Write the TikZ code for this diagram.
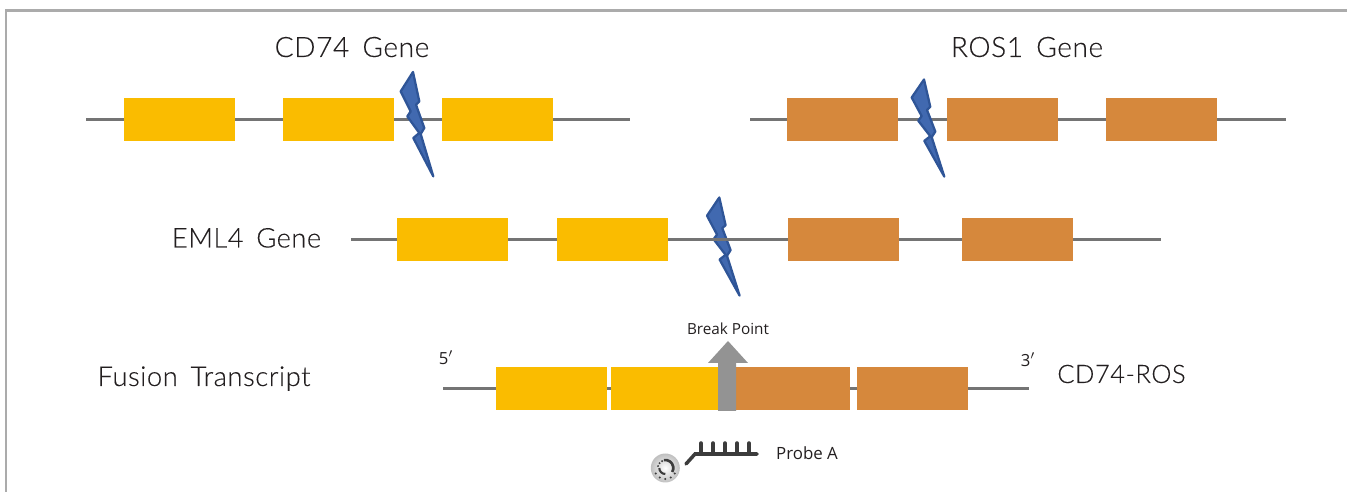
\documentclass[tikz,border=0pt]{standalone}
\usepackage{fontspec}
\setmainfont{Lato}
\newfontfamily\titlefont[WordSpace=1.6,LetterSpace=2,FakeBold=0.15]{Lato Light}
\newfontfamily\smallfont{Open Sans}
\tikzset{%
	exon/.style     = {rectangle, minimum width = 2.22cm, minimum height = 0.86cm, inner sep = 0pt},
	cd/.style       = {exon, fill = cdcolor},
	ros/.style      = {exon, fill = roscolor},
	strand/.style   = {line width = 1.7pt, draw = strandcolor},
	title/.style    = {font = \titlefont\fontsize{16}{18}\selectfont, text = inkcolor, inner sep = 0pt, anchor = base},
	note/.style     = {font = \smallfont\fontsize{8.7}{10}\selectfont, text = inkcolor, inner sep = 0pt},
	bolt/.style     = {fill = boltcolor, draw = boltedge, line width = 1.3pt, line join = round},
	comb/.style     = {draw = probecolor, line width = 2pt, line cap = round}
}
\definecolor{cdcolor}{HTML}{FABC00}
\definecolor{roscolor}{HTML}{D6883C}
\definecolor{strandcolor}{HTML}{747474}
\definecolor{inkcolor}{HTML}{231F20}
\definecolor{boltcolor}{HTML}{4169B0}
\definecolor{boltedge}{HTML}{2F5597}
\definecolor{framecolor}{HTML}{ABABAB}
\definecolor{arrowcolor}{HTML}{939393}
\definecolor{probecolor}{HTML}{3C3C3C}
\newcommand{\lightning}[2]{%
	\draw[bolt,shift={#1},yscale=#2] (0,0) -- (-12.3,19.4) -- (-2.3,39.4) -- (-5.7,44.4) -- (6.3,61) -- (0.3,66)
		-- (20.3,104.4) -- (7.7,62) -- (11.3,56) -- (3,32.7) -- (6.3,29.4) -- cycle;
}
\begin{document}
\begin{tikzpicture}[x=0.02cm,y=-0.02cm]
	\useasboundingbox (0,0) rectangle (1347,492);
	\draw[framecolor,line width=1.2pt] (6,492) -- (6,10.5) -- (1347,10.5);

	% CD74
	\coordinate (cdStart) at (86,119.5);
	\coordinate (cdEnd) at (630,119.5);
	\draw[strand] (cdStart) -- (cdEnd);
	\node[cd] (cdA) at (179.5,119.5) {};
	\node[cd] (cdB) at (338.5,119.5) {};
	\node[cd] (cdC) at (497.5,119.5) {};
	\node[title] (cdTitle) at (352,57) {CD74 Gene};
	\lightning{(413,72)}{1}

	% ROS1
	\coordinate (rosStart) at (750,119.5);
	\coordinate (rosEnd) at (1286,119.5);
	\draw[strand] (rosStart) -- (rosEnd);
	\node[ros] (rosA) at (842.5,119.5) {};
	\node[ros] (rosB) at (1002.5,119.5) {};
	\node[ros] (rosC) at (1161.5,119.5) {};
	\node[title] (rosTitle) at (1027,57) {ROS1 Gene};
	\lightning{(924,79.5)}{0.93}

	% EML4
	\lightning{(719.3,197.5)}{0.94}
	\coordinate (emlStart) at (351,239.5);
	\coordinate (emlEnd) at (1161,239.5);
	\draw[strand] (emlStart) -- (emlEnd);
	\node[cd] (emlA) at (452.5,239.5) {};
	\node[cd] (emlB) at (612.5,239.5) {};
	\node[ros] (emlC) at (843.5,239.5) {};
	\node[ros] (emlD) at (1017.5,239.5) {};
	\node[title,font=\titlefont\fontsize{15.5}{18}\selectfont] (emlTitle) at (246.5,247.5) {EML4 Gene};

	% fusion
	\coordinate (fusStart) at (443,388.5);
	\coordinate (fusEnd) at (1029,388.5);
	\draw[strand] (fusStart) -- (fusEnd);
	\node[cd] (fusA) at (551.5,388.5) {};
	\node[cd] (fusB) at (666.5,388.5) {};
	\node[ros,minimum width=2.3cm] (fusC) at (792.5,388.5) {};
	\node[ros] (fusD) at (912.5,388.5) {};
	\node[title,font=\titlefont\fontsize{15.6}{18}\selectfont] (fusTitle) at (204,386) {Fusion Transcript};
	\node[title,font=\titlefont\fontsize{14.5}{18}\selectfont] (fusName) at (1121.5,383) {CD74-ROS};
	\node[note,font=\smallfont\fontsize{9.5}{10}\selectfont] (fivePrime) at (446,358) {5$'$};
	\node[note,font=\smallfont\fontsize{9.5}{10}\selectfont] (threePrime) at (1028,360) {3$'$};

	% break point
	\fill[arrowcolor] (718,411) -- (718,363) -- (708,363) -- (728,341) -- (748,363) -- (736,363) -- (736,411) -- cycle;
	\node[note] (breakLabel) at (728,329) {Break Point};

	% probe
	\node[circle,minimum size=0.58cm,inner sep=0pt,shade,inner color=white,outer color=gray!50] (bead) at (665.3,468) {};
	\draw[probecolor,line width=1.5pt] (bead.center) ++(-100:8) arc (-100:30:8);
	\draw[probecolor,line width=1.2pt] (bead.center) ++(90:6) arc (90:180:6);
	\foreach \a in {30,60,90,120,150} \fill[probecolor] (bead.center) ++(\a:11) circle (1.1);
	\foreach \a in {-165,-140,-115} \fill[probecolor] (bead.center) ++(\a:7.5) circle (1.1);
	\draw[comb] (686,464) -- (695,454) -- (757,454);
	\foreach \x in {701,713,725,737,749} \draw[comb] (\x,454) -- (\x,443);
	\node[note,font=\smallfont\fontsize{9.6}{10}\selectfont] (probeLabel) at (807,453) {Probe A};
\end{tikzpicture}
\end{document}
